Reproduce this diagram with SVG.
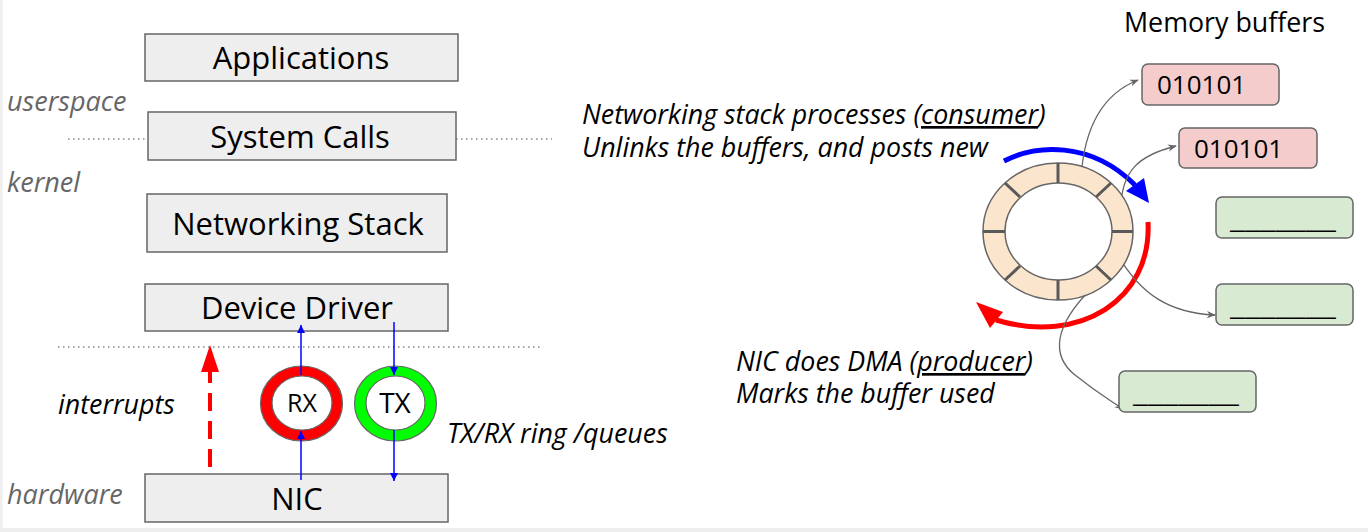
<svg xmlns="http://www.w3.org/2000/svg" width="1368" height="532" viewBox="0 0 1368 532">
<style>
.box{fill:#eeeeee;stroke:#666666;stroke-width:1.5}
.bt{font-family:"Open Sans","Liberation Sans",sans-serif;font-size:31px;fill:#000;text-anchor:middle}
.lbl{font-family:"Open Sans","Liberation Sans",sans-serif;font-size:27px;font-style:italic;fill:#666666}
.it{font-family:"Open Sans","Liberation Sans",sans-serif;font-size:26.8px;font-style:italic;fill:#000}
.dot{stroke:#888;stroke-width:1.3;stroke-dasharray:1.5 3.5;fill:none}
.blue{stroke:#0000ff;stroke-width:1.5;fill:none}
.gc{stroke:#666666;stroke-width:1.3;fill:none;marker-end:url(#ga)}
.mb{stroke:#666666;stroke-width:1.5}
.pink{fill:#f4cccc}
.green{fill:#d9ead3}
.mt{font-family:"Open Sans","Liberation Sans",sans-serif;font-size:26px;fill:#000}
.div{stroke:#595959;stroke-width:3}
</style>
<defs>
<marker id="ba" viewBox="0 0 10 10" refX="10" refY="5" markerWidth="8" markerHeight="8" markerUnits="userSpaceOnUse" orient="auto">
<path d="M0,0 L10,5 L0,10 z" fill="#0000ff"/>
</marker>
<marker id="ga" viewBox="0 0 10 10" refX="9" refY="5" markerWidth="9" markerHeight="9" markerUnits="userSpaceOnUse" orient="auto">
<path d="M0,1 L10,5 L0,9 L3,5 z" fill="#666666"/>
</marker>
</defs>
<rect x="0" y="0" width="1368" height="532" fill="#ffffff"/>
<rect x="0" y="0" width="2.5" height="532" fill="#eeeeee"/>
<rect x="0" y="528" width="1368" height="4" fill="#eeeeee"/>

<g id="layers">
<text class="lbl" x="7" y="111">userspace</text>
<text class="lbl" x="7" y="192">kernel</text>
<text class="lbl" x="7" y="504">hardware</text>
</g>

<g id="dividers">
<line class="dot" x1="68" y1="139" x2="148" y2="139"/>
<line class="dot" x1="456" y1="139" x2="552" y2="139"/>
<line class="dot" x1="58" y1="347" x2="542" y2="347"/>
</g>

<g id="applications">
<rect class="box" x="145" y="34" width="313" height="47"/>
<text class="bt" x="301" y="69">Applications</text>
</g>
<g id="system-calls">
<rect class="box" x="148" y="112" width="308" height="48"/>
<text class="bt" x="300" y="148">System Calls</text>
</g>
<g id="networking-stack">
<rect class="box" x="147" y="194" width="300" height="58"/>
<text class="bt" x="298" y="235">Networking Stack</text>
</g>
<g id="device-driver">
<rect class="box" x="145" y="284" width="303" height="47"/>
<text class="bt" x="297" y="319">Device Driver</text>
</g>
<g id="nic">
<rect class="box" x="145" y="474" width="303" height="48"/>
<text class="bt" x="297" y="510">NIC</text>
</g>

<g id="rx-ring">
<ellipse cx="301.5" cy="403.5" rx="41" ry="37.5" fill="#ff0000" stroke="#666" stroke-width="1.2"/>
<ellipse cx="302" cy="403" rx="30" ry="27" fill="#ffffff" stroke="#666" stroke-width="1.2"/>
<text x="302" y="412" font-family="Open Sans, Liberation Sans, sans-serif" font-size="25" text-anchor="middle" fill="#000">RX</text>
</g>
<g id="tx-ring">
<ellipse cx="395.5" cy="403.5" rx="41" ry="37.5" fill="#00ff00" stroke="#666" stroke-width="1.2"/>
<ellipse cx="395.5" cy="403" rx="29.5" ry="27" fill="#ffffff" stroke="#666" stroke-width="1.2"/>
<text x="395" y="413" font-family="Open Sans, Liberation Sans, sans-serif" font-size="28" text-anchor="middle" fill="#000">TX</text>
</g>

<g id="left-labels">
<text class="it" x="58" y="414">interrupts</text>
<text class="it" x="447" y="443">TX/RX ring /queues</text>
</g>

<g id="connectors">
<line class="blue" x1="301" y1="480" x2="301" y2="431" marker-end="url(#ba)"/>
<line class="blue" x1="301" y1="375" x2="301" y2="325" marker-end="url(#ba)"/>
<line class="blue" x1="394" y1="322" x2="394" y2="375" marker-end="url(#ba)"/>
<line class="blue" x1="394" y1="430" x2="394" y2="481" marker-end="url(#ba)"/>
<line x1="210" y1="467" x2="210" y2="370" stroke="#ff0000" stroke-width="4" stroke-dasharray="18 10"/>
<polygon points="210,345 201,372 219,372" fill="#ff0000"/>

<path d="M1004,161 C1035,145 1090,140 1135,185" stroke="#0000ff" stroke-width="5" fill="none"/>
<polygon points="1149,203 1126,191 1144,178" fill="#0000ff"/>
<path d="M1148,222 C1152,300 1080,345 996,320" stroke="#ff0000" stroke-width="5" fill="none"/>
<polygon points="976,302 990,328 1003,312" fill="#ff0000"/>

<path class="gc" d="M1081,178 C1084,130 1100,95 1138,80"/>
<path class="gc" d="M1121,212 C1120,170 1140,155 1176,146"/>
<path class="gc" d="M1116,252 C1140,295 1170,313 1215,315"/>
<path class="gc" d="M1091,289 C1055,325 1050,355 1075,375 S1110,400 1123,409"/>
</g>

<g id="right-labels">
<text class="it" x="582" y="124">Networking stack processes (<tspan text-decoration="underline">consumer</tspan>)</text>
<text class="it" x="582" y="157">Unlinks the buffers, and posts new</text>
<text class="it" x="736" y="371">NIC does DMA (<tspan text-decoration="underline">producer</tspan>)</text>
<text class="it" x="736" y="403">Marks the buffer used</text>
<text x="1124" y="32" font-family="Open Sans, Liberation Sans, sans-serif" font-size="26.8" fill="#000">Memory buffers</text>
</g>

<g id="ring-buffer">
<ellipse cx="1058" cy="231.5" rx="75" ry="68.5" fill="#fce5cd" stroke="#666" stroke-width="1.5"/>
<ellipse cx="1058.5" cy="231.5" rx="53.5" ry="48.5" fill="#ffffff" stroke="#666" stroke-width="1.5"/>
<line class="div" x1="1058" y1="163" x2="1058" y2="183"/>
<line class="div" x1="1058" y1="280" x2="1058" y2="300"/>
<line class="div" x1="983" y1="231.5" x2="1005" y2="231.5"/>
<line class="div" x1="1112" y1="231.5" x2="1133" y2="231.5"/>
<line class="div" x1="1111" y1="183" x2="1096" y2="197"/>
<line class="div" x1="1111" y1="280" x2="1096" y2="266"/>
<line class="div" x1="1005" y1="183" x2="1020" y2="197"/>
<line class="div" x1="1005" y1="280" x2="1020" y2="266"/>
</g>

<g id="buffer-1">
<rect class="mb pink" x="1142" y="64" width="137" height="41" rx="6"/>
<text class="mt" x="1157" y="94">010101</text>
</g>
<g id="buffer-2">
<rect class="mb pink" x="1179" y="128" width="138" height="40" rx="6"/>
<text class="mt" x="1194" y="158">010101</text>
</g>
<g id="buffer-3">
<rect class="mb green" x="1216" y="197" width="137" height="41" rx="6"/>
<text class="mt" x="1230" y="228" textLength="106" lengthAdjust="spacingAndGlyphs">_______</text>
</g>
<g id="buffer-4">
<rect class="mb green" x="1216" y="284" width="137" height="41" rx="6"/>
<text class="mt" x="1230" y="315" textLength="106" lengthAdjust="spacingAndGlyphs">_______</text>
</g>
<g id="buffer-5">
<rect class="mb green" x="1119" y="371" width="137" height="41" rx="6"/>
<text class="mt" x="1133" y="402" textLength="106" lengthAdjust="spacingAndGlyphs">_______</text>
</g>
</svg>
